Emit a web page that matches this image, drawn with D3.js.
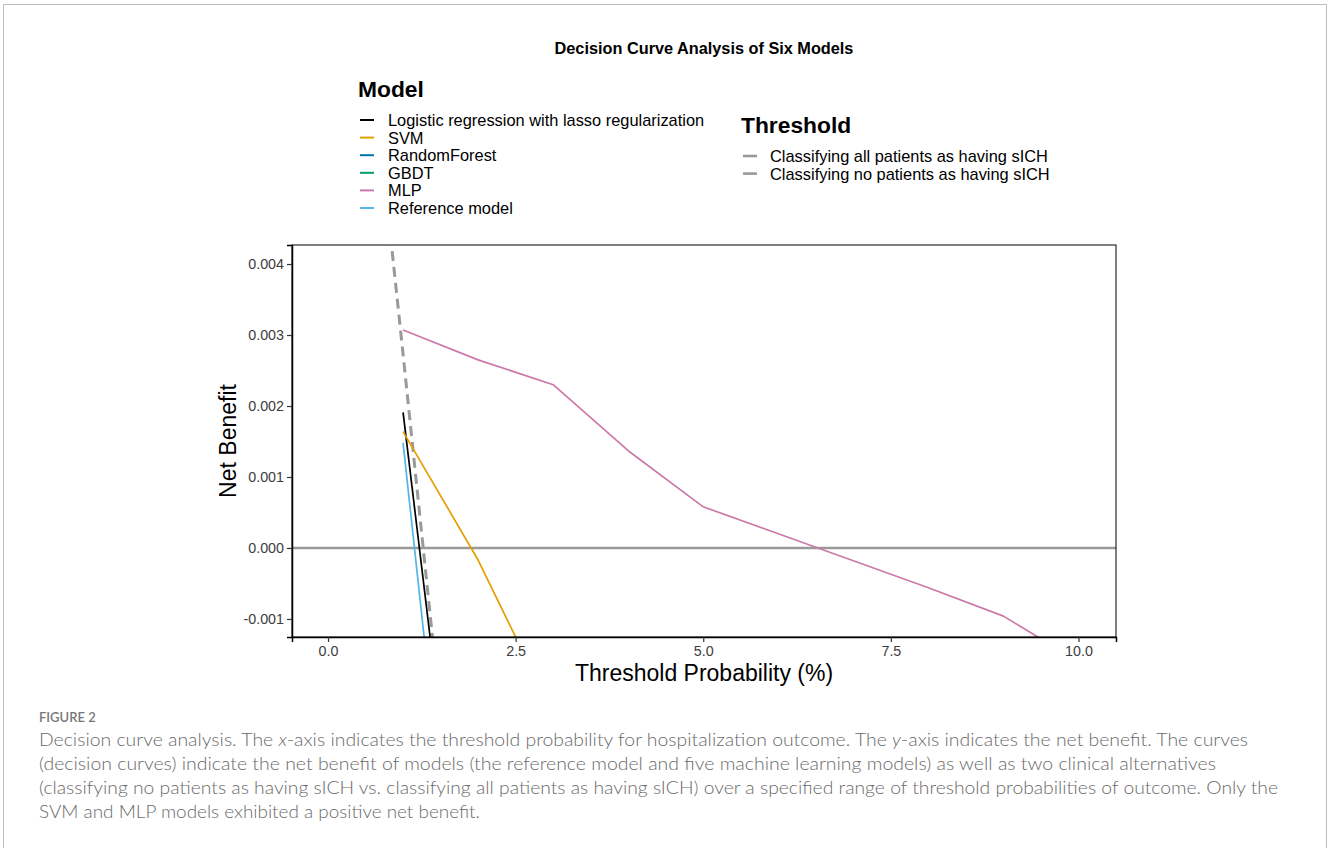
<!DOCTYPE html>
<html><head><meta charset="utf-8">
<script src="https://cdn.jsdelivr.net/npm/d3@7"></script>
<style>body{margin:0;background:#fff}</style>
</head><body>
<svg id="chart" width="1328" height="848"></svg>
<script>
// ---- data (threshold probability in %, net benefit) ----
const xTicks = [0, 2.5, 5, 7.5, 10];
const yTicks = [-0.001, 0, 0.001, 0.002, 0.003, 0.004];

const modelNames = ["Logistic regression with lasso regularization", "SVM", "RandomForest", "GBDT", "MLP", "Reference model"];
const modelColors = ["#000000", "#E69F00", "#0072B2", "#009E73", "#CC79A7", "#56B4E9"];

const logisticX = [1, 2];
const logisticY = [0.00191, -0.00688];
const svmX = [1, 2, 3];
const svmY = [0.00164, -0.00017, -0.00234];
const rfX = [1, 2];          // below visible range
const rfY = [-0.0020, -0.0110];
const gbdtX = [1, 2];        // below visible range
const gbdtY = [-0.0030, -0.0120];
const mlpX = [1, 2, 3, 4, 5, 6, 7, 8, 9, 10];
const mlpY = [0.00307, 0.00265, 0.00230, 0.00137, 0.00058, 0.00020, -0.00018, -0.00056, -0.00096, -0.00160];
const refX = [1, 2];
const refY = [0.00148, -0.00827];

const thresholdNames = ["Classifying all patients as having sICH", "Classifying no patients as having sICH"];
const treatAllX = [0, 1, 2, 3, 4, 5, 6, 7, 8, 9, 10];
const treatAllY = [0.0127, 0.00273, -0.00745, -0.01784, -0.02844, -0.03926, -0.05032, -0.06161, -0.07315, -0.08494, -0.0970];
const treatNoneY = 0;

const captionLines = [
  "Decision curve analysis. The |x|-axis indicates the threshold probability for hospitalization outcome. The |y|-axis indicates the net benefit. The curves",
  "(decision curves) indicate the net benefit of models (the reference model and five machine learning models) as well as two clinical alternatives",
  "(classifying no patients as having sICH vs. classifying all patients as having sICH) over a specified range of threshold probabilities of outcome. Only the",
  "SVM and MLP models exhibited a positive net benefit."
];

// ---- drawing ----
const svg = d3.select("#chart");
const FONT = "'Liberation Sans', Arial, Helvetica, sans-serif";
const panel = {left: 292, right: 1116, top: 245, bottom: 637};

// figure frame
svg.append("path")
  .attr("d", "M3.5,860 V4.5 H1326.5 V860")
  .attr("fill", "none").attr("stroke", "#bdbdbd").attr("stroke-width", 1);

const x = d3.scaleLinear().domain([-0.48, 10.5]).range([panel.left, panel.right]);
const y = d3.scaleLinear().domain([-0.001254, 0.004268]).range([panel.bottom, panel.top]);

svg.append("defs").append("clipPath").attr("id", "clip")
  .append("rect").attr("x", panel.left).attr("y", panel.top)
  .attr("width", panel.right - panel.left).attr("height", panel.bottom - panel.top);

// title
svg.append("text").attr("x", 704).attr("y", 54).attr("text-anchor", "middle")
  .attr("font-family", FONT).attr("font-weight", "bold").attr("font-size", 16.3)
  .text("Decision Curve Analysis of Six Models");

const plot = svg.append("g").attr("clip-path", "url(#clip)");
const line = d3.line().x(d => x(d[0])).y(d => y(d[1]));

// treat all (dashed)
plot.append("path").datum(d3.zip(treatAllX, treatAllY))
  .attr("d", line).attr("fill", "none").attr("stroke", "#999999")
  .attr("stroke-width", 3).attr("stroke-dasharray", "10,6");

// treat none (horizontal)
plot.append("line").attr("x1", panel.left).attr("x2", panel.right)
  .attr("y1", y(treatNoneY)).attr("y2", y(treatNoneY))
  .attr("stroke", "#999999").attr("stroke-width", 2.6);

// models
const modelData = [d3.zip(logisticX, logisticY), d3.zip(svmX, svmY), d3.zip(rfX, rfY),
                   d3.zip(gbdtX, gbdtY), d3.zip(mlpX, mlpY), d3.zip(refX, refY)];
[5, 3, 2, 0, 1, 4].forEach(i => {
  plot.append("path").datum(modelData[i]).attr("d", line)
    .attr("fill", "none").attr("stroke", modelColors[i]).attr("stroke-width", 1.7)
    .attr("stroke-linejoin", "round");
});

// panel border
svg.append("rect").attr("x", panel.left).attr("y", panel.top)
  .attr("width", panel.right - panel.left).attr("height", panel.bottom - panel.top)
  .attr("fill", "none").attr("stroke", "#000").attr("stroke-width", 1);

// axes
const fmtY = d => d3.format(".3f")(d).replace("\u2212", "-");
const yAxis = svg.append("g").attr("transform", `translate(${panel.left},0)`)
  .call(d3.axisLeft(y).tickValues(yTicks).tickFormat(fmtY).tickSize(5).tickPadding(3));
const xAxis = svg.append("g").attr("transform", `translate(0,${panel.bottom})`)
  .call(d3.axisBottom(x).tickValues(xTicks).tickFormat(d3.format(".1f")).tickSize(5).tickPadding(4));
[xAxis, yAxis].forEach(a => {
  a.select(".domain").attr("stroke", "#000").attr("stroke-width", 1.5);
  a.selectAll(".tick line").attr("stroke", "#333").attr("stroke-width", 1.2);
  a.selectAll(".tick text").attr("fill", "#3d3d3d").attr("font-family", FONT).attr("font-size", 14.3);
});

// axis titles
svg.append("text").attr("x", 704).attr("y", 681).attr("text-anchor", "middle")
  .attr("font-family", FONT).attr("font-size", 23).text("Threshold Probability (%)");
svg.append("text").attr("transform", "translate(236,441) rotate(-90)").attr("text-anchor", "middle")
  .attr("font-family", FONT).attr("font-size", 23).text("Net Benefit");

// legend: Model
const lg = svg.append("g");
lg.append("text").attr("x", 358).attr("y", 97).attr("font-family", FONT)
  .attr("font-weight", "bold").attr("font-size", 22.8).text("Model");
modelNames.forEach((n, i) => {
  const cy = 120 + i * 17.6;
  lg.append("line").attr("x1", 360).attr("x2", 374).attr("y1", cy).attr("y2", cy)
    .attr("stroke", modelColors[i]).attr("stroke-width", 2);
  lg.append("text").attr("x", 388).attr("y", cy).attr("dy", "0.36em")
    .attr("font-family", FONT).attr("font-size", 16.4).text(n);
});

// legend: Threshold
lg.append("text").attr("x", 741).attr("y", 133).attr("font-family", FONT)
  .attr("font-weight", "bold").attr("font-size", 22.8).text("Threshold");
thresholdNames.forEach((n, i) => {
  const cy = 156 + i * 17.6;
  lg.append("line").attr("x1", 743).attr("x2", 757).attr("y1", cy).attr("y2", cy)
    .attr("stroke", "#999999").attr("stroke-width", 2.6);
  lg.append("text").attr("x", 770).attr("y", cy).attr("dy", "0.36em")
    .attr("font-family", FONT).attr("font-size", 16.4).text(n);
});

// caption
const CAP = "Lato, 'Open Sans', sans-serif";
svg.append("text").attr("x", 39).attr("y", 722).attr("font-family", CAP)
  .attr("font-size", 13).attr("font-weight", 600).attr("fill", "#777").text("FIGURE 2");
const capLens = [1209, 1177, 1239, 441];
captionLines.forEach((l, i) => {
  const t = svg.append("text").attr("x", 39).attr("y", 746 + i * 24)
    .attr("font-family", CAP).attr("font-weight", 300).attr("font-size", 18.5).attr("fill", "#6a6a6a")
    .attr("textLength", capLens[i]).attr("lengthAdjust", "spacingAndGlyphs");
  l.split("|").forEach((part, j) => {
    t.append("tspan").attr("font-style", j % 2 ? "italic" : null).text(part);
  });
});
</script>
</body></html>
